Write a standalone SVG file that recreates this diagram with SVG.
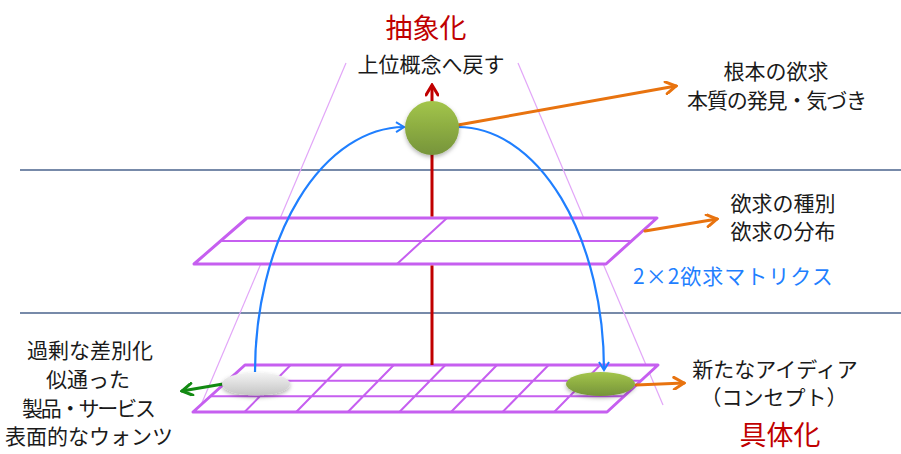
<svg xmlns="http://www.w3.org/2000/svg" width="901" height="454" viewBox="0 0 901 454">
<defs>
<style>
.t{font-family:"Noto Sans CJK JP","Noto Sans",sans-serif;font-size:21px;fill:#1a1a1a;text-anchor:middle}
.title{font-family:"Noto Sans CJK JP","Noto Sans",sans-serif;font-size:27px;fill:#c00000;text-anchor:middle}
.blue{font-family:"Noto Sans CJK JP","Noto Sans",sans-serif;font-size:21px;fill:#1f7fff;letter-spacing:1px}
.sep{stroke:#4a638c;stroke-width:1.5}
.persp{stroke:#e2a6f8;stroke-width:1.2;fill:none}
.plane{fill:#fff;stroke:#c65ff0;stroke-width:3;stroke-linejoin:round}
.grid{stroke:#c65ff0;stroke-width:2;fill:none}
.arc{fill:none;stroke:#1f7fff;stroke-width:2.2}
.orange{stroke:#e8730f;stroke-width:3;fill:none;stroke-linecap:round}
.green{stroke:#138a13;stroke-width:3;fill:none;stroke-linecap:round}
.red{stroke:#c00000;stroke-width:3;fill:none}
</style>
<marker id="ab" viewBox="0 0 12 12" refX="10" refY="6" markerWidth="12" markerHeight="12" markerUnits="userSpaceOnUse" orient="auto">
<path d="M2 1 L10 6 L2 11" fill="none" stroke="#1f7fff" stroke-width="2"/>
</marker>
<marker id="ao" viewBox="0 0 14 14" refX="12" refY="7" markerWidth="14" markerHeight="14" markerUnits="userSpaceOnUse" orient="auto">
<path d="M2 1 L12 7 L2 13" fill="none" stroke="#e8730f" stroke-width="3" stroke-linecap="round"/>
</marker>
<marker id="ag" viewBox="0 0 14 14" refX="12" refY="7" markerWidth="14" markerHeight="14" markerUnits="userSpaceOnUse" orient="auto">
<path d="M2 1 L12 7 L2 13" fill="none" stroke="#138a13" stroke-width="3" stroke-linecap="round"/>
</marker>
<marker id="ar" viewBox="0 0 14 14" refX="12" refY="7" markerWidth="14" markerHeight="14" markerUnits="userSpaceOnUse" orient="auto">
<path d="M2 1 L12 7 L2 13" fill="none" stroke="#c00000" stroke-width="3" stroke-linecap="round"/>
</marker>
<linearGradient id="gg" x1="0" y1="0" x2="0" y2="1">
<stop offset="0" stop-color="#a3c54a"/>
<stop offset="1" stop-color="#76943a"/>
</linearGradient>
<linearGradient id="gy" x1="0" y1="0" x2="0" y2="1">
<stop offset="0" stop-color="#f4f4f4"/>
<stop offset="1" stop-color="#c4c4c4"/>
</linearGradient>
<filter id="sh" x="-30%" y="-30%" width="160%" height="170%">
<feDropShadow dx="0" dy="2" stdDeviation="2" flood-color="#000" flood-opacity="0.3"/>
</filter>
</defs>

<g id="separators">
<line class="sep" x1="20" y1="170" x2="901" y2="170"/>
<line class="sep" x1="20" y1="313" x2="901" y2="313" stroke="#2c3e6b"/>
</g>

<g id="perspective">
<line class="persp" x1="346" y1="63" x2="201" y2="405"/>
<line class="persp" x1="518" y1="63" x2="663" y2="405"/>
</g>

<g id="bottom-plane">
<polygon class="plane" points="245,365 658,365 607,412 193,412"/>
<path class="grid" d="M228,380.7 H641 M211,396.3 H624 M290.6,365 L244.6,412 M342.2,365 L296.2,412 M393.8,365 L347.8,412 M445.4,365 L399.4,412 M497,365 L451,412 M548.6,365 L502.6,412 M600.2,365 L554.2,412"/>
</g>

<g id="middle-plane">
<polygon class="plane" points="247,218 657,218 606,264 194,264"/>
<path class="grid" d="M221,241 H632 M447,218 L397,264"/>
</g>

<g id="connectors">
<line class="red" x1="432" y1="365" x2="432" y2="265.5"/>
<line class="red" x1="432" y1="216.5" x2="432" y2="85" marker-end="url(#ar)"/>
<path class="arc" d="M255 372 A150 245 0 0 1 404 127" marker-end="url(#ab)"/>
<path class="arc" d="M458 127 A146 243 0 0 1 604 370" marker-end="url(#ab)"/>
<line class="orange" x1="458" y1="125" x2="676" y2="86" marker-end="url(#ao)"/>
<line class="orange" x1="645" y1="231" x2="717" y2="219" marker-end="url(#ao)"/>
<line class="orange" x1="636" y1="385" x2="684" y2="383" marker-end="url(#ao)"/>
<line class="green" x1="223" y1="384" x2="182" y2="391" marker-end="url(#ag)"/>
</g>

<g id="top-node">
<circle cx="432" cy="128" r="27" fill="url(#gg)" filter="url(#sh)"/>
</g>

<g id="grey-node">
<ellipse cx="256" cy="384" rx="34" ry="11.5" fill="url(#gy)" filter="url(#sh)"/>
</g>

<g id="green-node">
<ellipse cx="600.5" cy="384" rx="34.5" ry="12" fill="url(#gg)" filter="url(#sh)"/>
</g>

<g id="labels">
<text class="title" x="426" y="38">抽象化</text>
<text class="t" x="431" y="72">上位概念へ戻す</text>
<text class="t" x="776" y="79">根本の欲求</text>
<text class="t" x="777" y="108" textLength="180" lengthAdjust="spacing">本質の発見・気づき</text>
<text class="t" x="783" y="211">欲求の種別</text>
<text class="t" x="783" y="239">欲求の分布</text>
<text class="blue" x="633" y="284">2×2欲求マトリクス</text>
<text class="t" x="90" y="358">過剰な差別化</text>
<text class="t" x="88" y="387">似通った</text>
<text class="t" x="89" y="416" textLength="134" lengthAdjust="spacing">製品・サービス</text>
<text class="t" x="89" y="444">表面的なウォンツ</text>
<text class="t" x="775" y="377">新たなアイディア</text>
<text class="t" x="774" y="405">（コンセプト）</text>
<text class="title" x="780" y="445">具体化</text>
</g>
</svg>
